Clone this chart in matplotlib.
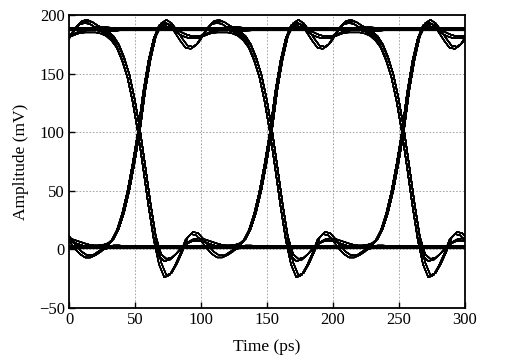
import numpy as np
import matplotlib.pyplot as plt
from itertools import product

plt.rcParams['font.family'] = ['Liberation Serif', 'DejaVu Serif']

# time inside one bit slot, measured from its starting crossing (ps)
u_ps = np.arange(0, 101, 4)

# start time of each bit slot shown in the window (ps)
slot_start = [-47, 53, 153, 253]

# small timing / amplitude spread of the overlaid traces (ps, mV)
jitter_ps = [-0.8, 0.8]
spread_mv = [-0.9, 0.9]

hh = [188, 188, 188, 188, 188, 188, 188, 188, 188, 188, 188, 188, 188,
      188, 188, 188, 188, 188, 188, 188, 188, 188, 188, 188, 188, 188]
hf = [188, 188, 188, 188, 188, 188, 188, 188, 188, 188, 188, 188, 188,
      188, 188, 188, 188, 188, 187, 185, 181, 174, 163, 148, 127, 101]
rh = [100, 135, 161, 181, 192, 195, 192, 186, 179, 173, 172, 175, 182,
      189, 194, 195, 193, 190, 188, 187, 187, 187.5, 188, 188, 188, 188]
rf = [100, 135, 161, 181, 192, 195, 192, 186, 179, 173, 172, 175, 182,
      189, 193, 194, 193, 190, 187, 184, 180, 173, 162, 148, 127, 101]
rh_soft = [100, 135, 162, 181, 190, 192, 190, 187, 184, 182, 181, 181, 182,
           184, 186, 187.5, 188.5, 189, 189, 188.5, 188, 188, 188, 188, 188, 188]
rf_soft = [100, 135, 162, 181, 190, 192, 190, 187, 184, 182, 181, 181, 182,
           184, 185.5, 186, 186, 186, 185, 183, 179, 173, 162, 148, 127, 101]

ll = [2, 2, 2, 2, 2, 2, 2, 2, 2, 2, 2, 2, 2,
      2, 2, 2, 2, 2, 2, 2, 2, 2, 2, 2, 2, 2]
lr = [2, 2, 2, 2, 2, 2, 2, 2, 2, 2, 2, 2, 2,
      2, 2, 2, 2, 2, 2.5, 4, 8, 17, 31, 50, 74, 101]
fl = [101, 70, 38, 9, -12, -23, -21, -13, -3, 9, 14, 13, 8,
      2, -3, -6, -6, -3, 0, 1.5, 2.5, 2.5, 2, 2, 2, 2]
fr = [101, 70, 38, 9, -12, -23, -21, -13, -3, 9, 14, 13, 8,
      2, -3, -6, -6, -4, -1, 3, 8, 17, 31, 50, 74, 101]
fl_soft = [101, 70, 38, 10, -5, -9, -8, -4, 1, 5, 7.5, 8.5, 8,
           6.5, 5, 3.5, 2.5, 2, 2, 2, 2, 2, 2, 2, 2, 2]
fr_soft = [101, 70, 38, 10, -5, -9, -8, -4, 1, 5, 7.5, 8.5, 8,
           6.5, 5, 3.5, 2.5, 2.5, 3, 4.5, 8.5, 17, 31, 50, 74, 101]

pieces = {
    'hh': hh, 'hf': hf, 'rh': rh, 'rf': rf, 'rhs': rh_soft, 'rfs': rf_soft,
    'll': ll, 'lr': lr, 'fl': fl, 'fr': fr, 'fls': fl_soft, 'frs': fr_soft,
}

x_ticks = [0, 50, 100, 150, 200, 250, 300]
y_ticks = [-50, 0, 50, 100, 150, 200]


def pick_piece(pp, p, b, n):
    if b == 1:
        if p == 1:
            return 'hh' if n == 1 else 'hf'
        name = 'rh' if n == 1 else 'rf'
        return name if pp == 0 else name + 's'
    if p == 0:
        return 'll' if n == 0 else 'lr'
    name = 'fl' if n == 0 else 'fr'
    return name if pp == 1 else name + 's'


def build_trace(bits):
    ts, vs = [], []
    for k, start in enumerate(slot_start):
        i = k + 2
        name = pick_piece(bits[i - 2], bits[i - 1], bits[i], bits[i + 1])
        seg = pieces[name]
        t = start + u_ps
        if k > 0:
            t, seg = t[1:], seg[1:]
        ts.extend(t)
        vs.extend(seg)
    return np.array(ts, dtype=float), np.array(vs, dtype=float)


fig = plt.figure(figsize=(5.1, 3.62), dpi=100)
ax = fig.add_axes([0.1353, 0.1492, 0.7765, 0.8094])

seen = set()
for bits in product([0, 1], repeat=7):
    key = tuple(pick_piece(bits[k], bits[k + 1], bits[k + 2], bits[k + 3])
                for k in range(4))
    if key in seen:
        continue
    seen.add(key)
    t, v = build_trace(bits)
    for dt, dv in zip(jitter_ps, spread_mv):
        ax.plot(t + dt, v + dv, color='black', lw=0.9, solid_capstyle='round')

ax.set_xlim(0, 300)
ax.set_ylim(-50, 200)
ax.set_xticks(x_ticks)
ax.set_yticks(y_ticks)
ax.grid(True, color='#999999', linestyle=(0, (2, 2)), linewidth=0.6)
ax.set_axisbelow(True)
ax.tick_params(direction='in', length=4, width=1.0, labelsize=12, pad=3,
               top=False, right=False)
for s in ax.spines.values():
    s.set_linewidth(1.3)

ax.set_xlabel('Time (ps)', fontsize=12.5, labelpad=8)
ax.set_ylabel('Amplitude (mV)', fontsize=12.5, labelpad=7)

fig.savefig('out.png', dpi=100)
